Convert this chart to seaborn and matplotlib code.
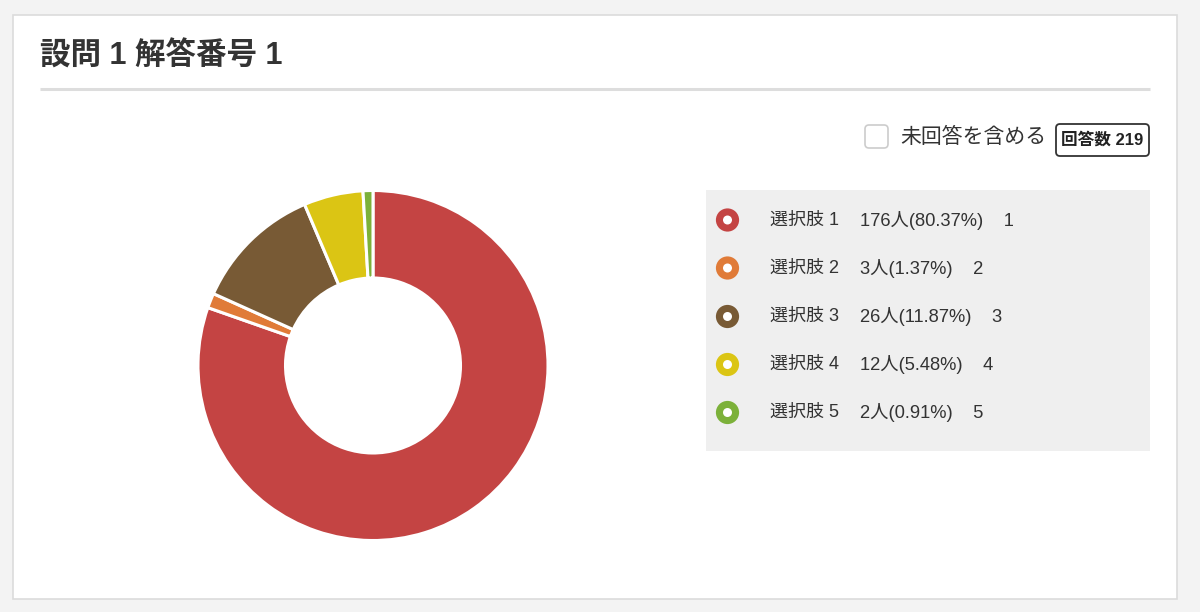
import matplotlib
matplotlib.use("Agg")
import matplotlib.pyplot as plt
from matplotlib.patches import FancyBboxPatch, Rectangle, Circle
import seaborn as sns

# ---- data ----
title = "設問 1 解答番号 1"
categories = ["選択肢 1", "選択肢 2", "選択肢 3", "選択肢 4", "選択肢 5"]
counts = [176, 3, 26, 12, 2]
percents = ["80.37%", "1.37%", "11.87%", "5.48%", "0.91%"]
codes = ["1", "2", "3", "4", "5"]
colors = ["#c44443", "#e07b38", "#785a35", "#dbc514", "#7cb13a"]
checkbox_label = "未回答を含める"
total_label = "回答数 219"

sns.set_theme(style="white")
plt.rcParams['font.family'] = ['Liberation Sans', 'Noto Sans CJK JP', 'DejaVu Sans']

W, H = 1200, 612
fig = plt.figure(figsize=(W / 100, H / 100), dpi=100)
fig.patch.set_facecolor("#f3f3f3")

bg = fig.add_axes([0, 0, 1, 1])
bg.set_xlim(0, W)
bg.set_ylim(H, 0)
bg.axis("off")

# card
bg.add_patch(Rectangle((13, 15), 1164, 584, facecolor="white", edgecolor="#dcdcdc", linewidth=1.2))
# title
bg.text(40, 57, title, fontsize=22, fontweight="bold", color="#333333", va="center", ha="left")
bg.plot([40, 1150], [89, 89], color="#dddddd", linewidth=2.2, solid_capstyle="butt")

# checkbox
bg.add_patch(FancyBboxPatch((865, 125), 23, 23, boxstyle="round,pad=0,rounding_size=4",
                            facecolor="white", edgecolor="#cccccc", linewidth=1.2))
bg.text(900, 137, checkbox_label, fontsize=15, color="#333333", va="center", ha="left")
# total box
bg.add_patch(FancyBboxPatch((1056, 124), 93, 32, boxstyle="round,pad=0,rounding_size=4",
                            facecolor="white", edgecolor="#333333", linewidth=1.3))
bg.text(1102.5, 140, total_label, fontsize=12, fontweight="bold", color="#222222", va="center", ha="center")

# legend panel
bg.add_patch(Rectangle((706, 190), 444, 261, facecolor="#efefef", edgecolor="none"))
row_y = [220, 268, 316.5, 364.5, 412.5]
for i, (cat, cnt, pct, code, col) in enumerate(zip(categories, counts, percents, codes, colors)):
    y = row_y[i]
    bg.add_patch(Circle((727.5, y), 11.6, facecolor=col, edgecolor="none", zorder=3))
    bg.add_patch(Circle((727.5, y), 4.5, facecolor="white", edgecolor="none", zorder=4))
    bg.text(770, y, cat, fontsize=13, color="#333333", va="center", ha="left")
    bg.text(860, y, f"{cnt}人({pct})    {code}", fontsize=13.2, color="#333333", va="center", ha="left")

# donut
cx, cy, r = 373, 365.5, 175
ax = fig.add_axes([(cx - r) / W, (H - cy - r) / H, 2 * r / W, 2 * r / H])
ax.pie(counts, colors=colors, startangle=90, counterclock=False, radius=1.0,
       wedgeprops=dict(width=0.5, edgecolor="white", linewidth=2.2))
ax.set_xlim(-1, 1)
ax.set_ylim(-1, 1)
ax.set_aspect("equal")
ax.axis("off")

fig.savefig("out.png", dpi=100, facecolor=fig.get_facecolor())
